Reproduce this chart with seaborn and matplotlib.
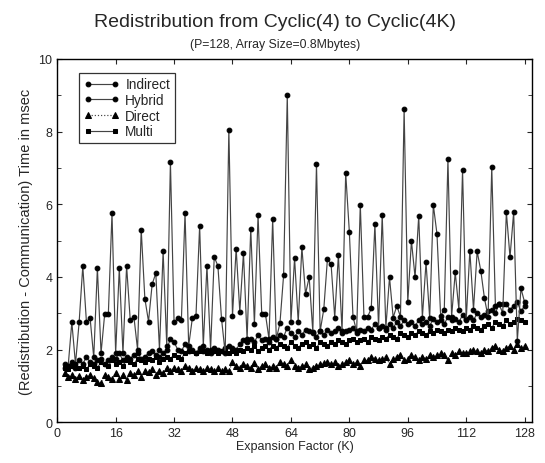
import numpy as np
import pandas as pd
import matplotlib
matplotlib.use("Agg")
import matplotlib.pyplot as plt
import seaborn as sns

K = list(range(2, 129))

indirect = [1.5, 1.55, 2.75, 1.6, 2.75, 4.29, 2.76, 2.87, 1.78, 4.24,
            1.9, 2.98, 2.98, 5.75, 1.9, 4.24, 1.9, 4.3, 2.8, 2.9,
            2.0, 5.3, 3.4, 2.77, 3.8, 4.1, 2.0, 4.7, 2.1, 7.17,
            2.75, 2.86, 2.8, 5.76, 2.1, 2.86, 2.93, 5.4, 2.1, 4.3,
            2.0, 4.55, 4.3, 2.84, 1.9, 8.05, 2.93, 4.78, 3.04, 4.65,
            2.29, 5.33, 2.7, 5.7, 2.99, 2.99, 2.29, 5.59, 2.29, 2.73,
            4.05, 9.0, 2.75, 4.52, 2.75, 4.81, 3.53, 3.99, 2.48, 7.1,
            2.5, 3.11, 4.49, 4.35, 2.88, 4.6, 2.5, 6.86, 5.24, 2.9,
            2.5, 5.99, 2.9, 2.9, 3.13, 5.45, 2.6, 5.7, 2.6, 3.99,
            2.88, 3.2, 2.9, 8.62, 3.3, 4.99, 3.99, 5.68, 2.88, 4.4,
            2.86, 5.98, 5.18, 2.93, 3.1, 7.23, 2.9, 4.12, 3.1, 6.94,
            2.8, 4.72, 3.1, 4.7, 4.17, 3.41, 2.9, 7.02, 3.2, 3.25,
            3.0, 5.78, 4.54, 5.78, 2.24, 3.68, 3.3]

hybrid = [1.6, 1.55, 1.65, 1.5, 1.7, 1.6, 1.8, 1.65, 1.6, 1.7,
          1.75, 1.6, 1.7, 1.8, 1.75, 1.9, 1.7, 1.8, 1.75, 1.85,
          1.9, 1.75, 1.8, 1.9, 1.95, 1.85, 1.8, 1.9, 2.0, 2.3,
          2.2, 2.0, 1.95, 2.15, 1.95, 2.0, 1.9, 2.05, 1.95, 2.0,
          1.9, 2.05, 2.0, 1.95, 2.05, 2.1, 2.05, 2.0, 2.15, 2.25,
          2.2, 2.3, 2.2, 2.4, 2.25, 2.3, 2.2, 2.35, 2.3, 2.4,
          2.35, 2.6, 2.45, 2.35, 2.5, 2.4, 2.55, 2.5, 2.45, 2.35,
          2.5, 2.4, 2.55, 2.45, 2.5, 2.6, 2.45, 2.5, 2.55, 2.6,
          2.45, 2.55, 2.5, 2.6, 2.55, 2.7, 2.6, 2.65, 2.55, 2.7,
          2.6, 2.75, 2.65, 2.8, 2.7, 2.75, 2.65, 2.8, 2.7, 2.75,
          2.65, 2.85, 2.75, 2.8, 2.7, 2.9, 2.8, 2.85, 2.75, 2.95,
          2.85, 2.9, 2.8, 3.0, 2.9, 2.95, 3.05, 3.1, 3.0, 3.25,
          3.25, 3.25, 3.1, 3.2, 3.3, 3.05, 3.2]

direct = [1.35, 1.25, 1.3, 1.2, 1.28, 1.15, 1.25, 1.3, 1.22, 1.1,
          1.08, 1.3, 1.25, 1.2, 1.35, 1.2, 1.3, 1.15, 1.35, 1.3,
          1.4, 1.25, 1.4, 1.38, 1.45, 1.3, 1.42, 1.35, 1.5, 1.4,
          1.5, 1.45, 1.4, 1.55, 1.48, 1.4, 1.5, 1.45, 1.4, 1.5,
          1.45, 1.42, 1.5, 1.4, 1.45, 1.4, 1.65, 1.55, 1.5, 1.6,
          1.55, 1.5, 1.62, 1.45, 1.55, 1.6, 1.5, 1.55, 1.5, 1.65,
          1.6, 1.55, 1.7, 1.55, 1.5, 1.55, 1.6, 1.45, 1.5, 1.55,
          1.6, 1.62, 1.65, 1.6, 1.65, 1.55, 1.6, 1.65, 1.7, 1.6,
          1.65, 1.55, 1.7, 1.7, 1.8, 1.75, 1.7, 1.75, 1.8, 1.6,
          1.75, 1.8, 1.85, 1.7, 1.75, 1.85, 1.8, 1.7, 1.8, 1.75,
          1.85, 1.8, 1.85, 1.9, 1.85, 1.7, 1.9, 1.85, 1.95, 1.9,
          1.9, 1.95, 2.0, 1.95, 1.9, 2.0, 1.95, 2.05, 2.1, 2.0,
          1.95, 2.05, 2.1, 2.0, 2.15, 2.05, 2.1]

multi = [1.5, 1.45, 1.55, 1.6, 1.5, 1.55, 1.45, 1.6, 1.55, 1.5,
         1.65, 1.6, 1.55, 1.7, 1.6, 1.65, 1.55, 1.7, 1.65, 1.6,
         1.75, 1.7, 1.65, 1.75, 1.7, 1.8, 1.65, 1.75, 1.8, 1.75,
         1.85, 1.8, 1.75, 1.9, 1.95, 1.95, 1.9, 1.95, 1.95, 1.9,
         1.95, 1.95, 1.9, 1.95, 1.95, 1.9, 1.95, 1.9, 2.0, 1.95,
         2.05, 2.0, 2.1, 1.95, 2.05, 2.1, 2.0, 2.1, 2.05, 2.15,
         2.1, 2.05, 2.2, 2.1, 2.05, 2.15, 2.2, 2.1, 2.15, 2.05,
         2.2, 2.15, 2.1, 2.2, 2.15, 2.25, 2.2, 2.15, 2.25, 2.3,
         2.2, 2.25, 2.3, 2.2, 2.35, 2.3, 2.25, 2.35, 2.3, 2.4,
         2.35, 2.3, 2.45, 2.4, 2.35, 2.45, 2.4, 2.5, 2.45, 2.4,
         2.5, 2.45, 2.55, 2.5, 2.45, 2.55, 2.5, 2.6, 2.55, 2.5,
         2.6, 2.55, 2.65, 2.6, 2.55, 2.65, 2.7, 2.6, 2.75, 2.7,
         2.65, 2.8, 2.7, 2.75, 2.85, 2.8, 2.75]

series_names = ["Indirect", "Hybrid", "Direct", "Multi"]
x_ticks = [0, 16, 32, 48, 64, 80, 96, 112, 128]
y_ticks = [0, 2, 4, 6, 8, 10]

sns.set_style("ticks")
plt.rcParams['font.family'] = ['Liberation Sans', 'DejaVu Sans']

fig = plt.figure(figsize=(5.45, 4.64), dpi=100)
ax = fig.add_axes([0.105, 0.088, 0.871, 0.783])

styles = {
    "Indirect": dict(marker="o", linestyle="-", ms=3.4),
    "Hybrid": dict(marker="o", linestyle="-", ms=3.4),
    "Direct": dict(marker="^", linestyle=":", ms=3.8),
    "Multi": dict(marker="s", linestyle="-", ms=3.2),
}
data = {"Indirect": indirect, "Hybrid": hybrid, "Direct": direct, "Multi": multi}

for name in ["Direct", "Multi", "Hybrid", "Indirect"]:
    df = pd.DataFrame({"K": K, "t": data[name]})
    st = styles[name]
    sns.lineplot(data=df, x="K", y="t", ax=ax, color="#444444", lw=0.85,
                 marker=st["marker"], linestyle=st["linestyle"],
                 markersize=st["ms"], markerfacecolor="black",
                 markeredgecolor="black", label=name)

ax.set_xlim(0, 130)
ax.set_ylim(0, 10)
ax.set_xticks(x_ticks)
ax.set_yticks(y_ticks)
ax.set_yticks(range(0, 11), minor=True)
ax.tick_params(direction="in", top=True, right=True, which="both", labelsize=9)
ax.tick_params(which="minor", length=3)
for sp in ax.spines.values():
    sp.set_linewidth(1.0)
    sp.set_color("black")

ax.set_xlabel("Expansion Factor (K)", fontsize=9, labelpad=1)
ax.set_ylabel("(Redistribution - Communication) Time in msec", fontsize=10.5, labelpad=4)

fig.text(0.505, 0.952, "Redistribution from Cyclic(4) to Cyclic(4K)", ha="center", va="center", fontsize=14)
fig.text(0.505, 0.903, "(P=128, Array Size=0.8Mbytes)", ha="center", va="center", fontsize=8.8)

handles, labels = ax.get_legend_handles_labels()
order = [labels.index(n) for n in series_names]
leg = ax.legend([handles[i] for i in order], [labels[i] for i in order],
                loc="upper left", bbox_to_anchor=(0.046, 0.962), numpoints=2,
                handlelength=2.6, fontsize=9.8, frameon=True, fancybox=False,
                borderpad=0.35, labelspacing=0.12, handletextpad=0.45,
                borderaxespad=0.0)
leg.get_frame().set_edgecolor("black")
leg.get_frame().set_linewidth(0.9)

fig.savefig("out.png", dpi=100)
